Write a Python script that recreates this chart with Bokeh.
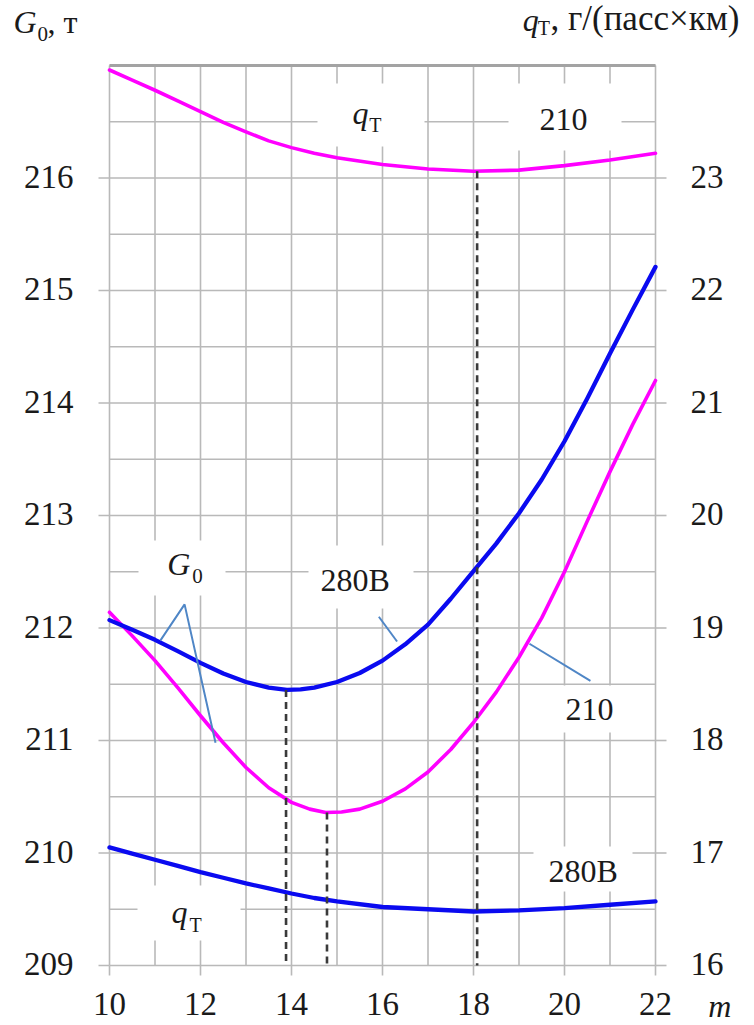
from bokeh.plotting import figure
from bokeh.models import Range1d, Label
from bokeh.core.properties import value
from bokeh.embed import file_html
from bokeh.resources import INLINE

# ---------------- data ----------------
# G0 (left axis, t) for variant 280B
m_g0_280 = [10, 10.5, 11, 11.5, 12, 12.5, 13, 13.5, 13.9, 14.2, 14.5, 15, 15.5, 16, 16.5,
            17, 17.5, 18, 18.5, 19, 19.5, 20, 20.5, 21, 21.5, 22]
g0_280 = [212.07, 211.985, 211.895, 211.795, 211.69, 211.595, 211.52, 211.47, 211.45, 211.455,
          211.47, 211.52, 211.60, 211.71, 211.855, 212.03, 212.26, 212.505, 212.75, 213.02,
          213.32, 213.66, 214.04, 214.44, 214.83, 215.21]
# G0 for variant 210
m_g0_210 = [10, 10.5, 11, 11.5, 12, 12.5, 13, 13.5, 14, 14.4, 14.75, 15.1, 15.5, 16, 16.5, 17,
            17.5, 18, 18.5, 19, 19.5, 20, 20.5, 21, 21.5, 22]
g0_210 = [212.14, 211.93, 211.71, 211.47, 211.22, 210.98, 210.76, 210.58, 210.45, 210.39,
          210.36, 210.365, 210.39, 210.46, 210.57, 210.72, 210.92, 211.16, 211.43, 211.74,
          212.09, 212.50, 212.95, 213.39, 213.81, 214.20]
# qT (right axis, g/(pass*km))
m_q = [10, 10.5, 11, 11.5, 12, 12.5, 13, 13.5, 14, 14.5, 15, 16, 17, 18, 19, 20, 21, 22]
q_210 = [23.96, 23.87, 23.78, 23.685, 23.59, 23.495, 23.41, 23.33, 23.27, 23.22, 23.18,
         23.12, 23.08, 23.06, 23.07, 23.11, 23.16, 23.22]
q_280 = [17.05, 16.995, 16.94, 16.885, 16.83, 16.78, 16.73, 16.685, 16.64, 16.60, 16.57,
         16.52, 16.50, 16.48, 16.49, 16.51, 16.54, 16.57]

# optimum markers (dashed verticals)
opt_g0_m = [13.88, 14.78]
opt_g0_val = [211.45, 210.36]
opt_q_m = [18.08]
opt_q_val = [23.06]

# axes
x_ticks = [10, 12, 14, 16, 18, 20, 22]
x_grid = list(range(10, 23))
g_ticks = [209, 210, 211, 212, 213, 214, 215, 216]
g_grid = [209 + 0.5 * i for i in range(17)]
q_ticks = [16, 17, 18, 19, 20, 21, 22, 23]
G_MIN, G_MAX = 209, 217
Q_MIN, Q_MAX = 16, 24
M_MIN, M_MAX = 10, 22

# ---------------- layout (pixels) ----------------
W, H = 754, 1025
FL, FR, FT, FB = 109, 655, 65, 965          # plotting area inside the canvas
SX = (FR - FL) / (M_MAX - M_MIN)             # px per unit of m
SY = (FB - FT) / (G_MAX - G_MIN)             # px per unit of G0 (and of qT)
BASE_SHIFT = 0.34                            # baseline correction, in em

FONT = "Liberation Serif"
TXT = "#1a1a1a"
GRID = "#b9b9b9"
BLUE = "#0a0af0"
MAGENTA = "#ff00ff"
LEADER = "#4f86c6"
TICK_PX = 33

p = figure(width=W, height=H, output_backend="svg", toolbar_location=None,
           x_range=Range1d(M_MIN - FL / SX, M_MAX + (W - FR) / SX),
           y_range=Range1d(G_MIN - (H - FB) / SY, G_MAX + FT / SY),
           min_border=0, x_axis_location=None, y_axis_location=None)
p.extra_y_ranges = {"q": Range1d(Q_MIN - (H - FB) / SY, Q_MAX + FT / SY)}
p.outline_line_color = None
p.xgrid.visible = False
p.ygrid.visible = False


def dx(px):
    return px / SX


def dy(px):
    return px / SY


# grid
p.segment(x0=x_grid, y0=[G_MIN] * len(x_grid), x1=x_grid, y1=[G_MAX] * len(x_grid),
          line_color=GRID, line_width=1.6)
p.segment(x0=[M_MIN] * len(g_grid), y0=g_grid, x1=[M_MAX] * len(g_grid), y1=g_grid,
          line_color=GRID, line_width=1.6)
# ticks (outside)
p.segment(x0=[M_MIN] * len(g_ticks), y0=g_ticks, x1=[M_MIN - dx(11)] * len(g_ticks), y1=g_ticks,
          line_color=GRID, line_width=1.6)
p.segment(x0=[M_MAX] * len(q_ticks), y0=q_ticks, x1=[M_MAX + dx(11)] * len(q_ticks), y1=q_ticks,
          y_range_name="q", line_color=GRID, line_width=1.6)
p.segment(x0=x_ticks, y0=[G_MIN] * len(x_ticks), x1=x_ticks, y1=[G_MIN - dy(10)] * len(x_ticks),
          line_color=GRID, line_width=1.6)

# white boxes behind the in-plot annotations (left, right, top, bottom in px)
boxes_px = [(317, 424, 83, 146), (508, 621, 83, 150), (138, 225, 540, 595),
            (308, 413, 545, 608), (553, 627, 685, 732), (533, 632, 846, 891),
            (137, 240, 885, 940)]
p.quad(left=[M_MIN + dx(b[0] - FL) for b in boxes_px],
       right=[M_MIN + dx(b[1] - FL) for b in boxes_px],
       top=[G_MIN + dy(FB - b[2]) for b in boxes_px],
       bottom=[G_MIN + dy(FB - b[3]) for b in boxes_px],
       fill_color="white", line_color=None)

# top border
p.segment(x0=[M_MIN], y0=[G_MAX], x1=[M_MAX], y1=[G_MAX], line_color="#a3a3a3", line_width=3.2)

# tick labels
shift = BASE_SHIFT * TICK_PX
tick_font = dict(text_font=value(FONT), text_font_size=value(f"{TICK_PX}px"), text_color=TXT,
                 text_baseline="alphabetic")
p.text(x=[M_MIN] * len(g_ticks), y=g_ticks, text=[str(t) for t in g_ticks],
       text_align="right", x_offset=-36, y_offset=10 - shift, **tick_font)
p.text(x=[M_MAX] * len(q_ticks), y=q_ticks, text=[str(t) for t in q_ticks],
       y_range_name="q", text_align="left", x_offset=35, y_offset=10 - shift, **tick_font)
p.text(x=x_ticks, y=[G_MIN] * len(x_ticks), text=[str(t) for t in x_ticks],
       text_align="center", y_offset=50 - shift, **tick_font)

# curves
p.line(m_g0_210, g0_210, line_color=MAGENTA, line_width=3.6, line_join="round", line_cap="round")
p.line(m_q, q_210, y_range_name="q", line_color=MAGENTA, line_width=3.6,
       line_join="round", line_cap="round")
p.line(m_g0_280, g0_280, line_color=BLUE, line_width=4.3, line_join="round", line_cap="round")
p.line(m_q, q_280, y_range_name="q", line_color=BLUE, line_width=4.3,
       line_join="round", line_cap="round")

# dashed optimum lines
p.segment(x0=opt_g0_m, y0=opt_g0_val, x1=opt_g0_m, y1=[G_MIN] * len(opt_g0_m),
          line_color="#3a3a3a", line_width=2.6, line_dash="7 5")
p.segment(x0=opt_q_m, y0=opt_q_val, x1=opt_q_m, y1=[Q_MIN] * len(opt_q_m),
          y_range_name="q", line_color="#3a3a3a", line_width=2.6, line_dash="7 5")

# leader lines of the annotations
lead_x = [[11.12, 11.65, 12.33], [15.92, 16.32], [19.23, 20.57]]
lead_y = [[211.89, 212.21, 210.98], [212.10, 211.88], [211.86, 211.53]]
p.multi_line(lead_x, lead_y, line_color=LEADER, line_width=2)


def lab(x, y, text, size=32, style="normal"):
    p.add_layout(Label(x=x, y=y + dy(BASE_SHIFT * size), text=text, text_font=FONT,
                       text_font_size=f"{size}px", text_font_style=style, text_color=TXT,
                       text_align="left", text_baseline="alphabetic"))


# axis titles
lab(7.89, 217.29, "G", 32, "italic")
lab(8.42, 217.22, "0", 21)
lab(8.64, 217.29, ", т", 32)
lab(19.08, 217.31, "q", 32, "italic")
lab(19.41, 217.27, "Т", 20)
lab(19.69, 217.31, ", г/(пасс×км)", 35)
lab(23.16, 208.54, "m", 32, "italic")

# in-plot annotations
lab(15.34, 216.48, "q", 32, "italic")
lab(15.71, 216.41, "Т", 20)
lab(19.45, 216.42, "210", 32)
lab(11.27, 212.47, "G", 32, "italic")
lab(11.82, 212.40, "0", 21)
lab(14.64, 212.33, "280B", 32)
lab(20.02, 211.18, "210", 32)
lab(19.65, 209.74, "280B", 32)
lab(11.36, 209.38, "q", 32, "italic")
lab(11.76, 209.30, "Т", 20)

open("out.html", "w").write(file_html(p, INLINE))
